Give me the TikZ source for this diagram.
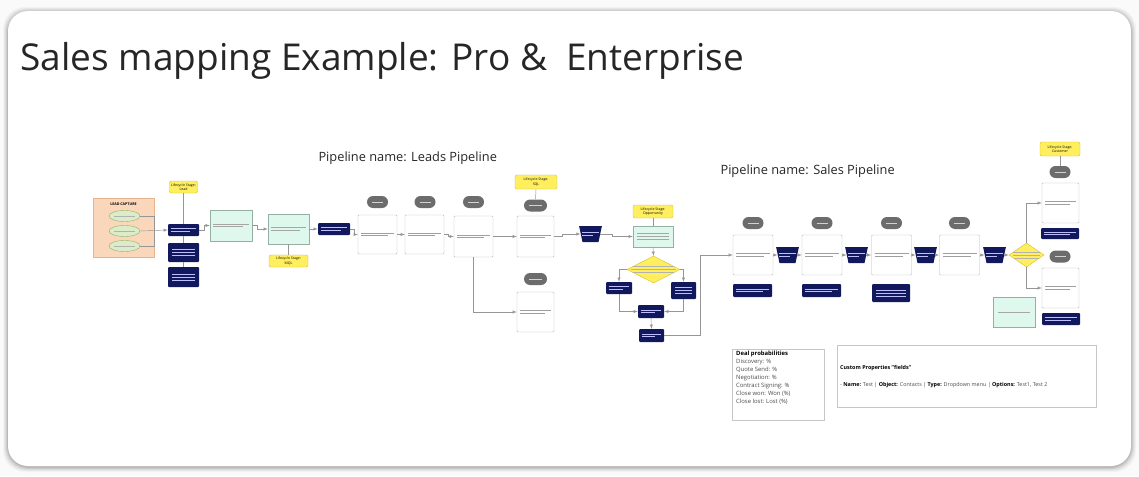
\documentclass[tikz,border=0pt]{standalone}
\usepackage{fontspec}
\setmainfont{Open Sans}
\usetikzlibrary{arrows,calc,shapes,positioning}

\definecolor{navy}{RGB}{18,24,92}
\definecolor{mint}{RGB}{222,248,237}
\definecolor{mintline}{RGB}{150,175,165}
\definecolor{stageyellow}{RGB}{255,239,95}
\definecolor{stageedge}{RGB}{215,190,40}
\definecolor{capture}{RGB}{250,214,186}
\definecolor{captureedge}{RGB}{228,178,140}
\definecolor{oval}{RGB}{220,236,200}
\definecolor{ovaledge}{RGB}{140,180,100}
\definecolor{pillgrey}{RGB}{108,108,108}
\definecolor{conngrey}{RGB}{150,150,150}

\tikzset{
  twolines/.style={path picture={
    \draw[#1,line width=0.7pt] ([xshift=3pt,yshift=1.3pt]path picture bounding box.west) -- ([xshift=-3pt,yshift=1.3pt]path picture bounding box.east);
    \draw[#1,line width=0.7pt] ([xshift=3pt,yshift=-1.3pt]path picture bounding box.west) -- ([xshift=-9pt,yshift=-1.3pt]path picture bounding box.east);}},
  threelines/.style={path picture={
    \foreach \dy in {3,0,-3}
      \draw[#1,line width=0.7pt] ([xshift=4pt,yshift=\dy pt]path picture bounding box.west) -- ([xshift=-4pt,yshift=\dy pt]path picture bounding box.east);}},
  oneline/.style={path picture={
    \draw[#1,line width=0.7pt] ([xshift=5pt]path picture bounding box.west) -- ([xshift=-5pt]path picture bounding box.east);}}
}

\begin{document}
\begin{tikzpicture}[x=1pt,y=-1pt,
  conn/.style={draw=conngrey,line width=0.45pt,-latex},
  link/.style={draw=conngrey,line width=0.45pt},
  wbox/.style={draw=gray!55,fill=white,rounded corners=1pt,minimum width=39pt,minimum height=39pt,inner sep=0pt,twolines=gray!75},
  nbox/.style={fill=navy,rounded corners=1pt,minimum width=31pt,minimum height=12pt,inner sep=0pt,twolines=blue!25},
  ntall/.style={fill=navy,rounded corners=1pt,minimum width=31pt,minimum height=19pt,inner sep=0pt,threelines=blue!25},
  mbox/.style={draw=mintline,fill=mint,minimum width=42pt,minimum height=30pt,inner sep=0pt,twolines=gray!70},
  pill/.style={fill=pillgrey,rounded corners=6pt,minimum width=21pt,minimum height=12pt,inner sep=0pt,oneline=gray!35},
  stage/.style={draw=stageedge,fill=stageyellow,rounded corners=2pt,minimum width=28pt,minimum height=12pt,inner sep=0.5pt,align=center,font=\fontsize{3.5}{4.1}\selectfont},
  funnel/.style={trapezium,shape border rotate=180,trapezium left angle=78,trapezium right angle=78,fill=navy,minimum width=21pt,minimum height=16pt,inner sep=1pt,twolines=blue!25},
  gate/.style={diamond,draw=stageedge,fill=stageyellow,minimum width=53pt,minimum height=27pt,inner sep=0pt,threelines=gray!60},
  ovalnode/.style={ellipse,draw=ovaledge,fill=oval,minimum width=31pt,minimum height=11pt,inner sep=0pt,oneline=gray!60}
]

\useasboundingbox (0,0) rectangle (1139,476);

% card with a soft shadow
\fill[gray!4] (0,0) rectangle (1139,476);
\foreach \s/\o in {5/0.03,4/0.04,3/0.05,2/0.07,1/0.09}
  \fill[black,opacity=\o,rounded corners=22pt] (8-\s,11-\s+1) rectangle (1131+\s,466+\s+1);
\fill[white,rounded corners=20pt] (8,11) rectangle (1131,466);

\node[anchor=base west,font=\fontsize{37}{44}\selectfont,text=black!85] (title) at (17,71) {Sales mapping Example: Pro \&\ \ Enterprise};
\node[anchor=west,font=\fontsize{12.8}{14}\selectfont,text=black!85] (leadsname) at (315,158) {Pipeline name: Leads Pipeline};
\node[anchor=west,font=\fontsize{12.8}{14}\selectfont,text=black!85] (salesname) at (717,171) {Pipeline name: Sales Pipeline};

% lead capture
\node[draw=captureedge,fill=capture,minimum width=61pt,minimum height=59pt,inner sep=0pt] (capture) at (123.5,227.5) {};
\node[font=\fontsize{3.6}{4}\selectfont\bfseries] (capturetxt) at (123.5,204) {LEAD CAPTURE};
\foreach \i/\y in {1/216,2/231,3/246}
  \node[ovalnode] (oval\i) at (124.5,\y) {};
\coordinate (capjoin) at (154,230);

\node[nbox] (lead1) at (183.5,230) {};
\node[ntall] (lead2) at (183.5,252.5) {};
\node[ntall,minimum height=20pt] (lead3) at (183.5,277) {};
\node[stage] (stlead) at (183.5,187) {Lifecycle Stage:\\Lead};

\node[mbox,minimum height=31pt] (mint1) at (231,225.5) {};
\node[mbox,minimum width=41pt] (mint2) at (288.5,229) {};
\node[stage,minimum width=39pt] (stmql) at (288.5,261) {Lifecycle Stage:\\MQL};
\node[nbox,minimum width=32pt] (lead4) at (334,229) {};

% leads pipeline stages
\node[wbox] (la) at (377.5,234.5) {};
\node[wbox] (lb) at (424.5,234.5) {};
\node[wbox,minimum height=41pt] (lc) at (473.5,236.5) {};
\node[wbox,minimum width=37pt,minimum height=41pt] (ld) at (535.5,236.5) {};
\node[wbox,minimum width=37pt,minimum height=40pt] (le) at (535.5,312) {};
\node[pill] (pa) at (377.5,202) {};
\node[pill] (pb) at (425,202) {};
\node[pill] (pc) at (473.5,202) {};
\node[pill,minimum width=23pt] (pd) at (535.5,205.5) {};
\node[pill,minimum width=23pt] (pe) at (535.5,279) {};
\node[stage,minimum width=42pt,minimum height=14pt] (stsql) at (536,182) {Lifecycle Stage:\\SQL};

% opportunity
\node[funnel] (f1) at (590.5,234) {};
\node[mbox,minimum width=40pt,minimum height=21pt,threelines=gray!70] (opp) at (653,236.5) {};
\node[stage,minimum width=40pt,minimum height=13pt] (stopp) at (653,211.5) {Lifecycle Stage:\\Opportunity};
\node[gate] (g1) at (653.5,269.5) {};
\node[nbox,minimum width=26pt] (ol) at (619,288) {};
\node[ntall,minimum width=25pt,minimum height=17pt] (or) at (683.5,290.5) {};
\node[nbox,minimum width=26pt,minimum height=13pt] (om) at (651,311.5) {};
\node[nbox,minimum width=25pt,minimum height=13pt] (ob) at (651.5,335.5) {};

% sales pipeline
\foreach \i/\x in {1/753,2/822,3/891.5,4/959.5}{
  \node[wbox,minimum width=40pt,minimum height=40pt] (s\i) at (\x,255) {};
  \node[pill] (sp\i) at (\x,223) {};
}
\foreach \i/\x in {2/787.5,3/856.5,4/925.5,5/994.5}
  \node[funnel] (f\i) at (\x,255) {};
\node[nbox,minimum width=39pt,minimum height=13pt] (sn1) at (752.5,290.5) {};
\node[nbox,minimum width=39pt,minimum height=13pt] (sn2) at (821.5,290.5) {};
\node[ntall,minimum width=38pt,minimum height=18pt] (sn3) at (891,293) {};

% close won / lost
\node[gate,minimum width=35pt,minimum height=24pt] (g2) at (1026.5,255) {};
\node[stage,minimum width=40pt,minimum height=14pt] (stcust) at (1060,149) {Lifecycle Stage:\\Customer};
\node[pill] (pwon) at (1060,172) {};
\node[wbox,minimum width=37pt,minimum height=40pt] (won) at (1060.5,203) {};
\node[nbox,minimum width=38pt,minimum height=11pt] (nwon) at (1060,233.5) {};
\node[pill] (plost) at (1060,256.5) {};
\node[wbox,minimum width=37pt,minimum height=40pt] (lost) at (1060.5,288) {};
\node[nbox,minimum width=38pt,minimum height=12pt] (nlost) at (1061,319) {};
\node[mbox,minimum width=42pt,minimum height=30pt,oneline=gray!70] (mint3) at (1014,312) {};

% notes
\node[draw=gray!45,minimum width=92pt,minimum height=71pt,inner sep=0pt] (deal) at (778,384.5) {};
\node[anchor=north west,align=left,font=\fontsize{5.9}{8}\selectfont,text=black!70,inner sep=0pt] (dealtxt) at (736,351)
  {\textbf{\color{black}Deal probabilities}\\Discovery: \%\\Quote Send: \%\\Negotiation: \%\\Contract Signing: \%\\Close won: Won (\%)\\Close lost: Lost (\%)};
\node[draw=gray!45,minimum width=259pt,minimum height=62pt,inner sep=0pt] (custom) at (966.5,376) {};
\node[anchor=west,font=\fontsize{5.4}{6}\selectfont\bfseries,inner sep=0pt] (customhead) at (840,368) {Custom Properties "fields"};
\node[anchor=west,font=\fontsize{5.4}{6}\selectfont,text=black!70,inner sep=0pt] (customtxt) at (840,385)
  {- \textbf{\color{black}Name:} Test | \textbf{\color{black}Object:} Contacts | \textbf{\color{black}Type:} Dropdown menu | \textbf{\color{black}Options:} Test1, Test 2};

% connectors
\draw[link] (oval1.east) -| (capjoin);
\draw[link] (oval3.east) -| (capjoin);
\draw[conn] (oval2.east) -- (lead1.west);
\draw[link] (lead1.north) -- (stlead.south);
\draw[link] (lead1.south) -- (lead2.north);
\draw[link] (lead2.south) -- (lead3.north);
\draw[conn] (lead1.east) -- ++(5,0) |- (mint1.west);
\draw[conn] (mint1.east) -- ++(5,0) |- (mint2.west);
\draw[link] (mint2.south) -- (stmql.north);
\draw[conn] (mint2.east) -- (lead4.west);
\draw[conn] (lead4.east) -- ++(4,0) |- (la.west);
\draw[conn] (la.east) -- (lb.west);
\draw[conn] (lb.east) -- ++(4,0) |- (lc.west);
\draw[conn] (lc.east) -- (ld.west);
\draw[conn] (lc.south) |- (le.west);
\draw[link] (stsql.south) -- (pd.north);
\draw[conn] (ld.east) -- ++(8,0) |- (f1.west);
\draw[conn] (f1.east) -- ++(12,0) |- (opp.west);
\draw[link] (opp.north) -- (stopp.south);
\draw[conn] (opp.south) -- (g1.north);
\draw[conn] (g1.west) -| (ol.north);
\draw[conn] (g1.east) -| (or.north);
\draw[conn] (ol.south) |- (om.west);
\draw[conn] (or.south) |- (om.east);
\draw[conn] (om.south) -- (ob.north);
\draw[conn] (ob.east) -- ++(36,0) |- (s1.west);
\foreach \a/\b in {s1/f2,f2/s2,s2/f3,f3/s3,s3/f4,f4/s4,s4/f5,f5/g2}
  \draw[conn] (\a.east) -- (\b.west);
\draw[conn] (g2.north) |- (won.west);
\draw[conn] (g2.south) |- (lost.west);
\draw[link] (stcust.south) -- (pwon.north);

\end{tikzpicture}
\end{document}
